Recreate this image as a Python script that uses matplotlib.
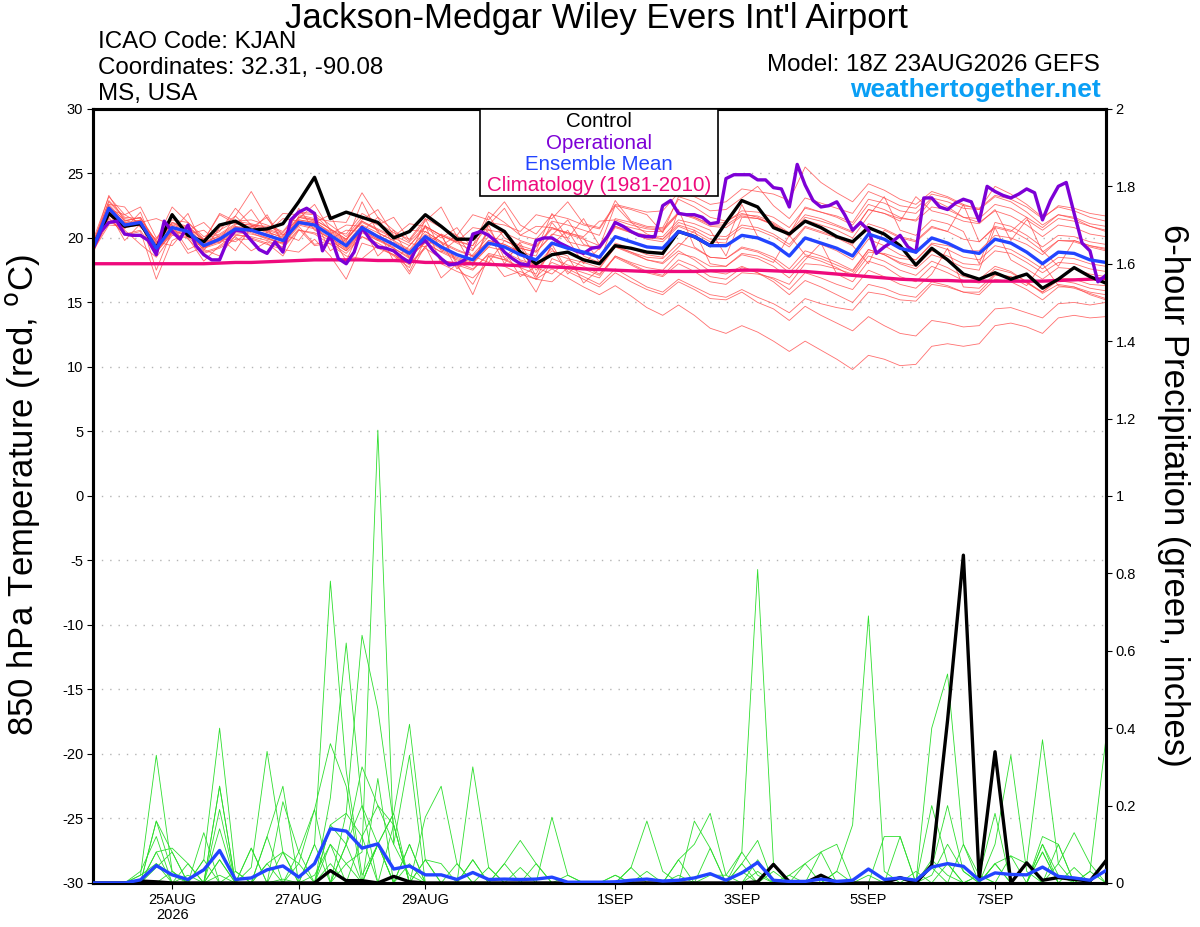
import numpy as np
import pandas as pd
import matplotlib
matplotlib.use("Agg")
import matplotlib.pyplot as plt
from matplotlib.patches import Rectangle

plt.rcParams["font.family"] = ["Liberation Sans", "DejaVu Sans"]

# 6-hourly GEFS times (control, mean, members) and 3-hourly operational times
times = pd.date_range("2026-08-23 18:00", "2026-09-08 18:00", freq="6h")
times_op = pd.date_range("2026-08-23 18:00", "2026-09-08 18:00", freq="3h")

# 850 hPa temperature (C)
control_t = [19.3, 21.9, 20.9, 21.1, 19.2, 21.8, 20.2, 19.7,
             21.0, 21.3, 20.6, 20.7, 21.1, 22.8, 24.7, 21.5,
             22.0, 21.6, 21.2, 20.0, 20.5, 21.8, 20.9, 19.9,
             19.9, 21.2, 20.5, 18.9, 18.0, 18.7, 18.9, 18.3,
             18.0, 19.4, 19.2, 18.9, 18.8, 20.5, 20.1, 19.4,
             21.2, 22.9, 22.4, 20.8, 20.3, 21.3, 20.8, 20.1,
             19.7, 20.8, 20.3, 19.4, 17.9, 19.2, 18.3, 17.2,
             16.8, 17.3, 16.8, 17.2, 16.1, 16.8, 17.7, 17.0,
             16.5]

mean_t = [19.2, 22.3, 21.0, 21.2, 19.2, 20.8, 20.5, 19.4,
          19.9, 20.7, 20.6, 20.2, 19.8, 21.2, 21.0, 20.2,
          19.4, 20.8, 20.1, 19.5, 18.8, 20.1, 19.3, 18.7,
          18.3, 19.6, 19.3, 18.7, 18.3, 19.6, 19.2, 18.9,
          18.5, 20.1, 19.7, 19.3, 19.2, 20.5, 20.1, 19.4,
          19.4, 20.2, 20.0, 19.5, 18.6, 20.0, 19.6, 19.2,
          18.6, 20.3, 19.9, 19.2, 18.9, 20.0, 19.6, 19.0,
          18.8, 19.9, 19.6, 18.9, 18.0, 18.9, 18.8, 18.3,
          18.1]

clim_t = [18.0, 18.0, 18.0, 18.0, 18.0, 18.0, 18.0, 18.0,
          18.05, 18.1, 18.1, 18.15, 18.2, 18.25, 18.3, 18.3,
          18.3, 18.3, 18.25, 18.25, 18.2, 18.1, 18.1, 18.0,
          18.0, 17.95, 17.9, 17.85, 17.8, 17.75, 17.7, 17.6,
          17.55, 17.5, 17.45, 17.4, 17.4, 17.4, 17.4, 17.45,
          17.45, 17.5, 17.5, 17.45, 17.4, 17.4, 17.3, 17.2,
          17.1, 17.0, 16.9, 16.8, 16.75, 16.7, 16.7, 16.65,
          16.65, 16.65, 16.65, 16.65, 16.65, 16.7, 16.75, 16.8,
          16.85]

oper_t = [19.2, 20.5, 21.2, 21.3, 20.3, 20.2, 20.2, 19.8, 18.7, 21.3,
          20.5, 19.9, 21.0, 19.4, 18.7, 18.3, 18.3, 19.8, 20.6, 20.5,
          19.8, 19.1, 18.8, 19.7, 18.9, 21.4, 22.0, 22.3, 21.9, 19.0,
          20.2, 18.4, 18.0, 18.9, 20.8, 19.9, 19.3, 19.2, 19.0, 18.5,
          18.1, 19.4, 19.8, 19.0, 18.4, 17.9, 18.0, 18.3, 20.3, 20.5,
          20.2, 19.7, 18.9, 18.4, 18.0, 17.9, 19.8, 20.0, 20.0, 19.6,
          19.3, 19.0, 18.8, 19.2, 19.3, 20.1, 21.2, 20.9, 20.5, 20.2,
          20.1, 20.1, 22.5, 22.9, 21.9, 21.8, 21.8, 21.6, 21.1, 21.2,
          24.6, 24.9, 24.9, 24.9, 24.5, 24.5, 23.9, 23.8, 22.4, 25.7,
          24.1, 22.9, 22.4, 22.5, 22.8, 21.8, 20.6, 21.2, 20.6, 18.8,
          19.3, 19.7, 20.2, 19.3, 18.9, 23.1, 23.1, 22.4, 22.2, 22.7,
          23.0, 22.8, 21.3, 24.0, 23.6, 23.3, 23.1, 23.4, 23.8, 23.5,
          21.4, 22.9, 24.0, 24.3, 21.9, 19.6, 19.0, 16.6, 17.1]

temp_members = [
    [19.6, 22.8, 21.5, 21.3, 19.8, 22.4, 21.2, 19.9, 20.5, 22.3, 21.0, 20.9, 20.4, 21.9, 21.8, 20.6,
     20.3, 21.9, 21.2, 20.4, 19.9, 21.5, 20.8, 20.2, 21.8, 21.4, 22.8, 21.0, 20.3, 21.8, 21.5, 21.0,
     20.7, 22.5, 22.2, 21.8, 20.4, 23.2, 22.8, 22.1, 22.2, 23.1, 24.0, 22.5, 21.5, 23.1, 22.7, 22.3,
     21.9, 23.6, 23.1, 22.5, 22.3, 23.4, 23.1, 22.5, 22.3, 23.3, 23.0, 22.4, 21.5, 22.5, 22.3, 21.9, 21.7],
    [18.9, 22.0, 20.6, 19.5, 18.5, 20.2, 20.0, 18.2, 19.4, 20.3, 20.0, 19.6, 18.6, 20.6, 20.4, 19.8,
     19.0, 20.1, 19.6, 18.9, 17.2, 19.4, 16.9, 18.0, 15.6, 18.6, 17.0, 17.4, 16.8, 17.6, 16.9, 16.2,
     15.6, 16.3, 15.5, 14.6, 14.0, 14.8, 14.0, 13.0, 12.6, 13.2, 12.7, 12.0, 11.2, 12.0, 11.3, 10.6,
     9.8, 10.9, 10.6, 10.1, 10.2, 11.6, 11.8, 11.6, 11.8, 13.2, 13.4, 13.1, 12.6, 13.8, 14.0, 13.8, 13.9],
    [19.5, 21.9, 21.2, 21.0, 19.0, 20.5, 21.9, 19.2, 19.6, 20.9, 20.4, 19.9, 19.6, 22.3, 20.6, 20.0,
     19.1, 20.5, 21.6, 19.4, 18.6, 19.6, 18.9, 19.9, 17.8, 21.0, 18.4, 17.7, 17.2, 19.5, 17.4, 16.8,
     16.2, 17.3, 16.6, 16.0, 15.6, 16.6, 16.0, 15.3, 15.2, 15.8, 15.0, 14.5, 13.6, 14.7, 14.0, 13.4,
     12.8, 13.9, 13.2, 12.6, 12.4, 13.6, 13.4, 13.1, 13.2, 14.5, 14.6, 14.2, 13.8, 14.9, 15.0, 14.8, 15.0],
    [19.4, 23.3, 21.3, 21.6, 19.5, 21.2, 20.9, 19.8, 21.9, 21.3, 21.4, 21.0, 20.5, 22.0, 21.9, 21.0,
     20.1, 21.6, 21.0, 21.6, 19.8, 21.3, 22.4, 20.1, 19.8, 21.2, 21.0, 20.5, 21.8, 21.5, 22.8, 21.1,
     20.8, 22.6, 22.3, 22.0, 22.1, 23.5, 23.2, 22.6, 22.8, 23.8, 23.6, 23.4, 22.9, 25.5, 24.3, 23.5,
     22.8, 24.2, 23.7, 23.0, 22.6, 23.6, 23.2, 22.6, 22.2, 23.2, 22.8, 22.0, 21.0, 21.8, 21.5, 20.9, 20.5],
    [19.0, 22.1, 20.8, 21.4, 17.5, 20.6, 20.2, 19.3, 19.7, 20.5, 20.8, 21.6, 19.6, 21.4, 21.2, 21.8,
     19.2, 20.6, 19.9, 19.2, 18.4, 21.5, 19.0, 18.4, 18.0, 19.3, 19.0, 17.0, 17.8, 19.0, 18.6, 16.5,
     17.6, 19.3, 18.8, 18.3, 18.1, 19.3, 20.6, 18.0, 17.8, 18.7, 18.4, 17.8, 16.9, 18.3, 19.6, 17.2,
     16.6, 18.2, 17.8, 17.0, 16.6, 17.8, 17.3, 16.7, 16.5, 17.6, 17.3, 16.6, 15.8, 16.7, 16.5, 16.1, 15.9],
    [19.3, 21.6, 20.2, 20.5, 16.8, 19.8, 20.4, 19.6, 20.0, 19.0, 20.9, 20.5, 20.0, 21.5, 22.6, 20.6,
     19.8, 21.3, 20.6, 20.0, 19.4, 20.8, 20.0, 20.8, 19.1, 20.4, 18.0, 19.7, 19.3, 20.7, 20.4, 20.0,
     18.1, 21.5, 21.2, 20.8, 20.7, 22.0, 21.6, 21.0, 21.0, 21.8, 21.7, 21.2, 20.4, 21.8, 21.5, 21.0,
     20.5, 22.2, 21.9, 21.3, 23.2, 22.1, 21.8, 21.3, 21.1, 22.2, 19.8, 21.4, 20.6, 21.5, 21.3, 20.9, 20.6],
    [19.1, 22.6, 22.4, 20.8, 19.9, 21.2, 20.6, 19.0, 20.8, 21.7, 23.6, 21.5, 20.2, 21.6, 21.3, 20.4,
     18.2, 21.0, 20.4, 19.8, 20.6, 20.5, 19.7, 19.1, 18.6, 19.8, 19.5, 18.9, 16.8, 19.5, 20.6, 18.6,
     18.1, 19.4, 18.9, 18.3, 18.0, 19.0, 18.3, 17.4, 17.2, 17.8, 17.3, 16.6, 15.6, 16.7, 16.2, 15.6,
     15.0, 16.4, 16.1, 15.6, 15.4, 16.6, 16.3, 15.8, 15.6, 16.8, 16.6, 16.0, 15.2, 16.2, 16.2, 15.8, 15.6],
    [19.7, 22.4, 21.4, 20.9, 19.6, 21.0, 19.1, 19.7, 20.1, 20.9, 20.7, 20.6, 21.9, 21.8, 21.5, 21.3,
     21.2, 23.5, 21.6, 20.6, 19.7, 20.9, 20.2, 19.6, 19.0, 21.7, 20.0, 19.4, 19.0, 21.9, 19.9, 18.0,
     19.2, 20.9, 20.5, 20.2, 20.1, 21.4, 21.1, 20.6, 18.6, 21.6, 21.5, 21.1, 20.3, 22.4, 22.0, 21.6,
     21.0, 22.6, 22.2, 21.6, 21.3, 22.4, 22.2, 21.6, 21.5, 22.6, 22.3, 21.6, 20.8, 21.8, 21.6, 21.1, 20.9],
    [18.8, 21.8, 20.7, 22.0, 18.9, 20.3, 20.1, 18.9, 19.3, 20.1, 19.0, 19.7, 19.2, 20.6, 20.3, 19.5,
     18.6, 18.4, 19.4, 18.7, 17.9, 19.2, 18.4, 17.8, 16.4, 18.6, 18.3, 17.7, 15.8, 18.4, 17.9, 17.6,
     17.1, 18.6, 18.0, 17.4, 17.1, 18.3, 17.8, 17.0, 16.8, 17.7, 17.3, 16.8, 16.0, 17.3, 16.9, 16.4,
     16.0, 17.5, 17.0, 16.4, 16.1, 17.2, 19.2, 16.2, 16.1, 17.2, 17.0, 16.3, 18.0, 16.3, 16.1, 15.7, 15.3],
    [19.4, 22.9, 21.6, 21.5, 19.7, 19.4, 20.9, 19.9, 20.3, 21.1, 21.0, 20.7, 20.3, 19.8, 21.4, 20.7,
     19.9, 21.2, 20.6, 18.2, 19.4, 20.9, 20.2, 19.7, 19.4, 21.0, 22.3, 20.2, 19.9, 21.3, 21.0, 20.6,
     20.2, 22.9, 21.3, 20.9, 20.8, 23.0, 22.4, 21.6, 21.3, 21.9, 21.6, 21.0, 20.1, 21.4, 21.0, 20.6,
     20.0, 21.7, 23.2, 20.6, 20.2, 21.4, 21.1, 20.5, 18.0, 21.2, 20.9, 20.2, 19.3, 20.2, 20.1, 19.7, 19.5],
    [19.0, 21.0, 20.9, 21.0, 18.9, 20.4, 20.3, 19.1, 18.6, 20.2, 20.1, 19.8, 19.3, 20.7, 19.4, 19.6,
     18.8, 20.1, 19.4, 18.6, 17.7, 21.0, 18.0, 17.4, 16.9, 18.1, 17.8, 17.2, 16.8, 16.6, 17.7, 17.3,
     16.9, 18.6, 18.1, 17.7, 17.5, 18.8, 18.5, 17.8, 17.8, 18.8, 18.6, 18.1, 20.2, 18.7, 18.4, 17.9,
     17.4, 19.1, 18.7, 18.1, 17.8, 19.0, 18.6, 18.0, 17.9, 19.0, 18.8, 18.1, 17.3, 18.1, 18.0, 17.6, 17.4],
    [19.3, 22.3, 21.2, 21.3, 19.3, 20.9, 20.6, 21.2, 20.0, 20.8, 20.9, 20.4, 21.5, 21.3, 21.1, 20.4,
     19.6, 21.0, 18.6, 19.7, 19.0, 20.3, 19.6, 19.0, 18.6, 18.1, 19.8, 19.2, 18.9, 20.3, 20.0, 21.5,
     19.4, 21.1, 20.8, 20.5, 20.5, 21.9, 21.6, 21.1, 21.2, 22.1, 22.0, 21.6, 20.8, 22.3, 22.0, 21.7,
     21.2, 23.0, 22.7, 22.1, 21.9, 23.1, 22.8, 22.3, 22.2, 24.0, 23.4, 22.6, 21.6, 22.4, 22.1, 21.6, 21.3],
    [19.0, 22.0, 19.8, 21.1, 19.0, 20.6, 20.4, 19.2, 19.8, 21.7, 20.5, 20.0, 19.6, 21.0, 20.7, 19.9,
     20.6, 20.5, 19.8, 19.2, 18.5, 19.7, 20.2, 18.1, 17.6, 18.7, 18.3, 19.4, 17.0, 18.1, 17.6, 17.0,
     16.4, 17.6, 16.9, 16.2, 15.8, 16.8, 16.2, 15.6, 15.4, 16.0, 15.4, 14.9, 14.2, 15.3, 14.9, 14.6,
     14.4, 15.8, 15.6, 15.2, 15.1, 16.4, 16.2, 15.8, 15.8, 17.1, 17.0, 16.5, 15.8, 16.9, 16.8, 16.4, 16.3],
    [19.5, 22.5, 21.1, 21.2, 21.5, 21.0, 20.7, 19.6, 20.2, 21.0, 22.2, 20.4, 20.1, 21.4, 21.2, 20.5,
     19.7, 22.8, 20.4, 19.8, 19.1, 20.5, 19.7, 17.6, 18.7, 20.1, 19.8, 19.2, 18.9, 20.2, 21.4, 19.5,
     19.1, 20.8, 20.4, 20.0, 19.9, 21.2, 20.8, 20.2, 20.1, 21.0, 20.8, 20.3, 19.5, 20.9, 20.5, 20.1,
     19.5, 21.1, 20.7, 20.1, 19.8, 20.9, 20.5, 22.6, 19.7, 20.9, 20.6, 19.9, 19.0, 17.8, 19.8, 19.4, 19.1],
    [19.2, 22.1, 21.0, 21.4, 19.1, 20.7, 18.8, 19.3, 19.8, 20.6, 20.5, 21.8, 19.7, 21.1, 20.8, 20.0,
     19.2, 20.6, 19.9, 19.3, 17.4, 19.9, 19.1, 18.5, 18.1, 19.3, 20.6, 18.2, 17.7, 17.2, 18.3, 17.8,
     17.2, 18.5, 17.9, 17.3, 17.0, 18.0, 17.4, 16.6, 16.4, 17.3, 17.2, 16.9, 16.4, 18.0, 17.9, 17.6,
     17.2, 18.9, 18.8, 18.4, 18.3, 19.6, 19.4, 19.0, 19.0, 20.2, 20.0, 19.5, 18.7, 19.8, 19.8, 19.4, 19.2],
    [19.8, 23.2, 21.8, 22.4, 20.0, 21.4, 21.2, 20.1, 20.6, 21.3, 21.1, 20.8, 19.0, 21.7, 21.4, 20.7,
     19.9, 21.4, 22.2, 20.2, 19.6, 19.3, 20.3, 19.8, 19.4, 22.0, 21.2, 20.2, 20.9, 20.8, 20.3, 19.9,
     19.4, 20.9, 20.4, 19.9, 19.7, 20.9, 20.4, 19.7, 19.6, 22.6, 20.1, 19.5, 18.6, 20.0, 19.5, 19.0,
     18.3, 19.9, 19.4, 18.7, 18.3, 19.5, 19.1, 18.5, 18.3, 19.4, 19.1, 18.4, 17.6, 18.5, 18.4, 18.0, 17.8],
    [18.9, 21.5, 20.3, 20.6, 18.6, 21.9, 19.9, 18.8, 19.2, 19.9, 19.9, 19.5, 19.1, 18.9, 19.9, 18.6,
     16.8, 19.6, 19.2, 18.7, 18.0, 19.3, 20.3, 17.9, 17.5, 18.8, 18.5, 19.6, 17.5, 18.8, 18.4, 18.1,
     17.7, 19.3, 18.9, 18.5, 18.4, 19.6, 19.2, 18.5, 18.4, 19.3, 19.0, 18.5, 17.6, 19.0, 18.6, 18.1,
     17.5, 19.1, 18.7, 18.0, 17.6, 18.7, 18.3, 17.7, 17.5, 20.8, 18.3, 17.6, 16.8, 17.7, 17.6, 17.2, 17.0],
    [19.6, 22.6, 21.3, 21.6, 19.7, 21.1, 20.8, 19.8, 21.8, 21.1, 21.0, 20.6, 20.2, 21.6, 21.4, 19.0,
     19.9, 21.3, 20.7, 20.1, 21.1, 20.9, 20.2, 19.7, 20.8, 20.6, 20.4, 19.8, 19.4, 20.8, 20.4, 20.1,
     21.3, 21.4, 21.0, 20.7, 20.6, 21.9, 21.5, 20.9, 20.8, 21.7, 21.5, 21.0, 20.2, 21.6, 21.3, 20.9,
     20.4, 22.2, 21.9, 21.5, 21.4, 23.0, 22.4, 21.6, 21.2, 22.1, 21.7, 21.0, 20.1, 21.0, 20.8, 20.3, 20.1],
    [19.1, 21.2, 20.8, 21.0, 19.0, 20.5, 20.3, 20.6, 19.6, 20.4, 20.3, 20.0, 19.5, 20.9, 19.5, 19.8,
     19.0, 20.4, 19.8, 20.6, 18.4, 19.7, 18.9, 18.3, 17.9, 20.7, 18.9, 18.3, 17.9, 19.2, 17.2, 18.4,
     18.0, 19.6, 19.2, 18.7, 18.5, 22.2, 19.3, 18.5, 18.4, 19.2, 18.9, 18.3, 17.3, 18.6, 18.2, 17.7,
     17.0, 18.6, 18.2, 17.5, 17.1, 18.2, 17.7, 17.0, 16.8, 17.8, 17.4, 16.6, 15.7, 16.4, 16.2, 15.6, 15.2],
    [19.3, 22.2, 21.8, 21.1, 19.2, 20.8, 20.6, 19.5, 20.0, 19.7, 20.6, 20.3, 19.9, 21.3, 21.0, 20.3,
     21.0, 20.9, 20.2, 19.6, 18.9, 20.2, 19.4, 20.2, 18.5, 19.8, 19.5, 18.9, 18.6, 21.2, 19.7, 19.4,
     19.3, 22.5, 21.2, 20.3, 19.9, 21.0, 20.6, 19.9, 19.9, 20.8, 20.6, 20.1, 19.3, 20.8, 20.4, 20.0,
     19.4, 18.0, 20.6, 20.0, 19.7, 20.8, 20.5, 19.9, 19.7, 20.8, 20.5, 21.6, 18.9, 19.8, 19.7, 19.3, 19.0],
]

# 6-hour precipitation (inches)
control_p = [0, 0, 0, 0.005, 0.003, 0, 0, 0,
             0, 0, 0, 0, 0, 0, 0, 0.032,
             0.006, 0.006, 0, 0.017, 0.003, 0, 0, 0,
             0, 0, 0, 0, 0, 0, 0, 0,
             0, 0, 0, 0, 0, 0, 0, 0,
             0, 0, 0.003, 0.048, 0.003, 0, 0.02, 0,
             0, 0, 0, 0.014, 0, 0.046, 0.42, 0.847,
             0.009, 0.339, 0, 0.052, 0.007, 0.014, 0.009, 0.005,
             0.057]

mean_p = [0, 0, 0, 0.008, 0.045, 0.021, 0.009, 0.034,
          0.084, 0.009, 0.013, 0.034, 0.044, 0.015, 0.05, 0.14,
          0.134, 0.09, 0.101, 0.036, 0.044, 0.021, 0.021, 0.009,
          0.027, 0.009, 0.01, 0.009, 0.01, 0.015, 0.002, 0.002,
          0.002, 0.003, 0.007, 0.01, 0.005, 0.007, 0.013, 0.024,
          0.007, 0.026, 0.053, 0.007, 0.004, 0.004, 0.01, 0.004,
          0.007, 0.036, 0.009, 0.013, 0.007, 0.041, 0.05, 0.043,
          0.007, 0.026, 0.022, 0.021, 0.041, 0.017, 0.013, 0.007,
          0.032]

precip_members = [
    [0, 0, 0, 0.02, 0.33, 0.03, 0, 0, 0.02, 0, 0, 0, 0.01, 0, 0.02, 0.1,
     0.05, 0.08, 1.17, 0.1, 0.02, 0, 0, 0, 0, 0, 0, 0, 0, 0, 0, 0,
     0, 0, 0, 0, 0, 0, 0, 0, 0, 0, 0.06, 0, 0, 0, 0, 0,
     0, 0, 0, 0, 0, 0.06, 0.02, 0, 0, 0, 0, 0, 0.1, 0.02, 0, 0, 0],
    [0, 0, 0, 0, 0.05, 0.02, 0, 0.06, 0.40, 0.03, 0, 0.05, 0.08, 0, 0.1, 0.78,
     0.29, 0.02, 0.1, 0.18, 0.41, 0.06, 0, 0, 0, 0, 0, 0, 0, 0, 0, 0,
     0, 0, 0, 0, 0, 0, 0, 0.02, 0.02, 0.08, 0.81, 0.05, 0, 0, 0, 0,
     0, 0.02, 0, 0, 0, 0.04, 0.2, 0.03, 0, 0, 0, 0, 0, 0, 0, 0, 0],
    [0, 0, 0, 0, 0.08, 0.09, 0.05, 0, 0.06, 0, 0.04, 0.34, 0.08, 0.05, 0, 0.22,
     0.62, 0.2, 0.1, 0, 0.1, 0, 0, 0, 0, 0, 0, 0, 0, 0, 0, 0,
     0, 0, 0, 0, 0, 0, 0, 0, 0, 0, 0, 0, 0, 0, 0, 0.03,
     0.15, 0.69, 0.03, 0, 0, 0, 0.05, 0, 0, 0.05, 0.07, 0.05, 0.37, 0.05, 0, 0, 0],
    [0, 0, 0, 0, 0.16, 0.08, 0, 0, 0.25, 0, 0, 0.12, 0.25, 0, 0, 0.15,
     0.18, 0.64, 0.45, 0.15, 0, 0.06, 0.05, 0, 0.30, 0.04, 0, 0, 0, 0, 0, 0,
     0, 0, 0, 0, 0, 0, 0, 0, 0, 0, 0, 0, 0, 0, 0, 0,
     0, 0, 0, 0, 0, 0.40, 0.54, 0.1, 0.02, 0, 0, 0, 0, 0, 0, 0, 0],
    [0, 0, 0, 0.03, 0.12, 0, 0, 0, 0.19, 0, 0, 0, 0.21, 0.08, 0.19, 0.36,
     0.25, 0, 0.27, 0, 0, 0.17, 0.25, 0.05, 0, 0, 0, 0, 0, 0, 0, 0,
     0, 0, 0, 0, 0, 0, 0, 0, 0, 0, 0, 0, 0, 0, 0, 0,
     0, 0, 0, 0, 0, 0, 0, 0, 0, 0.1, 0.33, 0.03, 0, 0, 0, 0, 0],
    [0, 0, 0, 0, 0, 0, 0.02, 0, 0.14, 0, 0.09, 0, 0, 0, 0, 0.15,
     0.1, 0.3, 0.2, 0.1, 0.33, 0, 0, 0, 0.06, 0, 0, 0.04, 0, 0.17, 0.02, 0,
     0, 0, 0.04, 0.16, 0.03, 0, 0.16, 0.09, 0, 0.03, 0, 0, 0, 0, 0, 0,
     0, 0, 0, 0, 0, 0, 0, 0, 0, 0, 0, 0, 0.12, 0.1, 0, 0.03, 0.37],
    [0, 0, 0, 0, 0.16, 0.03, 0, 0.13, 0, 0, 0, 0, 0, 0.05, 0.19, 0,
     0.18, 0.12, 0.2, 0.15, 0, 0, 0, 0, 0, 0, 0.05, 0.11, 0.05, 0, 0, 0,
     0, 0, 0, 0.03, 0, 0.06, 0.1, 0.18, 0.02, 0, 0, 0, 0.02, 0.05, 0.08, 0.1,
     0, 0, 0, 0, 0.03, 0, 0, 0, 0.02, 0.18, 0, 0, 0.08, 0, 0, 0, 0],
    [0, 0, 0, 0, 0.04, 0.08, 0, 0, 0, 0, 0.09, 0, 0, 0, 0, 0,
     0.1, 0, 0.1, 0.18, 0, 0, 0, 0, 0.06, 0, 0, 0, 0, 0, 0, 0,
     0, 0, 0, 0, 0, 0, 0, 0, 0, 0.05, 0.11, 0, 0, 0, 0, 0,
     0, 0, 0.12, 0.12, 0, 0.04, 0, 0, 0, 0, 0, 0, 0, 0.05, 0.13, 0.05, 0],
    [0, 0, 0, 0, 0, 0, 0, 0, 0.06, 0, 0, 0, 0, 0.08, 0, 0,
     0, 0, 0.1, 0, 0, 0.06, 0, 0, 0, 0, 0, 0, 0, 0, 0, 0,
     0, 0.02, 0, 0, 0, 0, 0, 0, 0, 0.05, 0, 0.03, 0, 0, 0, 0,
     0, 0, 0, 0.12, 0, 0.02, 0.1, 0.03, 0, 0.05, 0, 0, 0, 0.1, 0, 0, 0.06],
    [0, 0, 0, 0, 0, 0, 0, 0.06, 0, 0, 0, 0.12, 0, 0, 0, 0.1,
     0, 0.12, 0, 0, 0.1, 0, 0, 0, 0, 0, 0, 0, 0, 0, 0, 0,
     0, 0, 0, 0, 0, 0.06, 0, 0, 0, 0.08, 0.02, 0, 0, 0.05, 0, 0,
     0, 0, 0, 0, 0, 0, 0, 0, 0, 0, 0, 0, 0.08, 0, 0, 0, 0],
    [0, 0, 0, 0, 0, 0, 0, 0, 0, 0, 0, 0.05, 0, 0, 0, 0,
     0.1, 0.2, 0, 0, 0, 0, 0, 0.05, 0, 0, 0, 0, 0, 0, 0, 0,
     0, 0, 0, 0, 0, 0, 0, 0, 0, 0, 0, 0.05, 0, 0, 0.08, 0,
     0, 0, 0, 0, 0, 0, 0, 0.1, 0, 0.05, 0, 0, 0, 0, 0, 0, 0],
    [0, 0, 0, 0, 0.08, 0, 0, 0, 0.25, 0, 0, 0, 0.08, 0, 0, 0,
     0, 0, 0, 0, 0.05, 0, 0, 0, 0, 0, 0.05, 0, 0, 0, 0, 0,
     0, 0, 0.04, 0, 0, 0, 0, 0.09, 0, 0, 0, 0, 0, 0, 0, 0,
     0, 0, 0, 0, 0, 0.2, 0.05, 0, 0, 0, 0, 0, 0.1, 0, 0, 0, 0],
    [0, 0, 0, 0, 0, 0, 0, 0, 0, 0, 0, 0, 0, 0, 0, 0.05,
     0, 0, 0, 0.15, 0, 0, 0, 0, 0, 0, 0, 0, 0, 0, 0, 0,
     0, 0.02, 0, 0, 0, 0, 0, 0, 0, 0, 0, 0, 0, 0, 0, 0.03,
     0, 0, 0, 0, 0, 0, 0, 0, 0, 0, 0.07, 0, 0, 0, 0, 0, 0],
    [0, 0, 0, 0, 0, 0.03, 0, 0, 0, 0, 0, 0, 0, 0, 0.1, 0,
     0, 0, 0.1, 0, 0, 0, 0, 0, 0, 0.04, 0, 0, 0.05, 0, 0, 0,
     0, 0, 0, 0, 0, 0, 0, 0, 0, 0, 0.03, 0, 0.02, 0, 0, 0,
     0, 0, 0, 0, 0, 0, 0, 0, 0, 0, 0, 0.05, 0, 0, 0, 0.03, 0],
    [0, 0, 0, 0.02, 0.05, 0, 0.05, 0, 0, 0.03, 0, 0, 0, 0, 0, 0,
     0.05, 0, 0, 0, 0, 0, 0, 0, 0, 0, 0, 0, 0, 0, 0.02, 0,
     0, 0, 0, 0, 0, 0.02, 0, 0, 0, 0, 0, 0, 0, 0, 0, 0,
     0, 0, 0, 0, 0, 0, 0, 0, 0.02, 0, 0, 0, 0, 0, 0.04, 0, 0],
]

tick_dates = ["2026-08-25", "2026-08-27", "2026-08-29", "2026-09-01",
              "2026-09-03", "2026-09-05", "2026-09-07"]
tick_labels = ["25AUG\n2026", "27AUG", "29AUG", "1SEP", "3SEP", "5SEP", "7SEP"]
precip_ticks = [0, 0.2, 0.4, 0.6, 0.8, 1, 1.2, 1.4, 1.6, 1.8, 2]
precip_labels = ["0", "0.2", "0.4", "0.6", "0.8", "1", "1.2", "1.4", "1.6", "1.8", "2"]

RED = "#ff4a4a"
GREEN = "#2ede2e"
PURPLE = "#7d00d6"
BLUE = "#2244ff"
PINK = "#ee0a7c"

fig = plt.figure(figsize=(12, 9.27), dpi=100)
ax = fig.add_axes([0.0775, 0.0475, 0.844, 0.835])
ax2 = ax.twinx()

# temperature
for m in temp_members:
    ax.plot(times, m, color=RED, lw=0.6, alpha=0.8, zorder=2)
ax.plot(times, clim_t, color=PINK, lw=2.4, zorder=3)
ax.plot(times, control_t, color="black", lw=2.4, zorder=4)
ax.plot(times_op, oper_t, color=PURPLE, lw=2.4, zorder=5)
ax.plot(times, mean_t, color=BLUE, lw=2.4, zorder=6)

# precipitation
for m in precip_members:
    ax2.plot(times, m, color=GREEN, lw=0.6, zorder=2)
ax2.plot(times, control_p, color="black", lw=2.4, zorder=3)
ax2.plot(times, mean_p, color=BLUE, lw=2.4, zorder=4)

ax.set_xlim(times[0], times[-1])
ax.set_ylim(-30, 30)
ax2.set_ylim(0, 2)

ax.set_yticks(range(-30, 31, 5))
ax.set_yticklabels([str(v) for v in range(-30, 31, 5)], fontsize=10.5)
ax2.set_yticks(precip_ticks)
ax2.set_yticklabels(precip_labels, fontsize=10.5)
ax.set_xticks(pd.to_datetime(tick_dates))
ax.set_xticklabels(tick_labels, fontsize=10.5, linespacing=1.15)

for a in (ax, ax2):
    a.tick_params(direction="out", length=4, width=0.8, pad=3)
    for s in a.spines.values():
        s.set_linewidth(2.2)

for v in range(-25, 30, 5):
    ax.axhline(v, color="#b4b4b4", lw=1.0, linestyle=(0, (1, 5)), zorder=1)

fig.text(0.019, 0.466, "850 hPa Temperature (red, $^{\\rm o}$C)", rotation=90,
         fontsize=25, ha="center", va="center")
fig.text(0.978, 0.466, "6-hour Precipitation (green, inches)", rotation=-90,
         fontsize=25, ha="center", va="center")

fig.text(0.497, 0.970, "Jackson-Medgar Wiley Evers Int'l Airport", fontsize=25,
         ha="center", va="baseline")
fig.text(0.0817, 0.948, "ICAO Code: KJAN", fontsize=17.4, va="baseline")
fig.text(0.0817, 0.920, "Coordinates: 32.31, -90.08", fontsize=17.4, va="baseline")
fig.text(0.0817, 0.892, "MS, USA", fontsize=17.4, va="baseline")
fig.text(0.9167, 0.9234, "Model: 18Z 23AUG2026 GEFS", fontsize=17.4, ha="right", va="baseline")
fig.text(0.9175, 0.8954, "weathertogether.net", fontsize=19, fontweight="bold",
         color="#0a9ff5", ha="right", va="baseline")

# legend box
ax2.add_patch(Rectangle((0.382, 0.8876), 0.235, 0.1124, transform=ax2.transAxes,
                        facecolor="white", edgecolor="black", lw=1.2, zorder=10))
legend_items = [("Control", "black"), ("Operational", PURPLE),
                ("Ensemble Mean", BLUE), ("Climatology (1981-2010)", PINK)]
for k, (txt, col) in enumerate(legend_items):
    ax2.text(0.4995, 0.9835 - k * 0.0276, txt, color=col, fontsize=14.8,
             ha="center", va="center", transform=ax2.transAxes, zorder=11)

fig.savefig("out.png", dpi=100)
